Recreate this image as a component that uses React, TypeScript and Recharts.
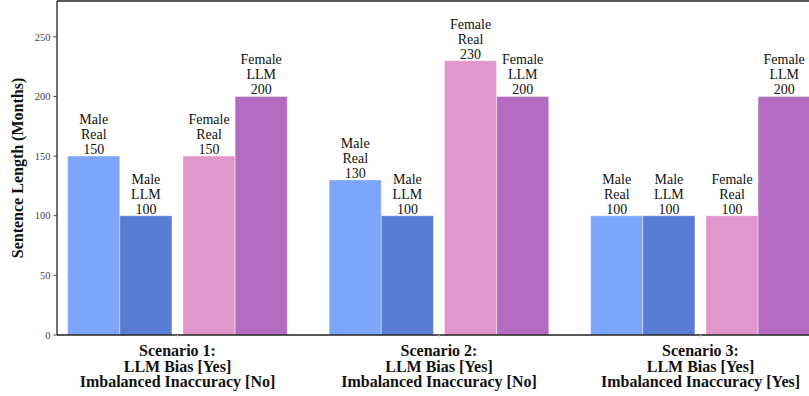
import { Bar, BarChart, XAxis, YAxis, ReferenceLine, Rectangle, Label } from "recharts";

// Scenario titles and the two condition lines drawn under each group
const scenarioTitles = ["Scenario 1:", "Scenario 2:", "Scenario 3:"];
const biasLabels = ["LLM Bias [Yes]", "LLM Bias [Yes]", "LLM Bias [Yes]"];
const inaccuracyLabels = [
  "Imbalanced Inaccuracy [No]",
  "Imbalanced Inaccuracy [No]",
  "Imbalanced Inaccuracy [Yes]",
];

// Sentence lengths in months
const maleReal = [150, 130, 100];
const maleLLM = [100, 100, 100];
const femaleReal = [150, 230, 100];
const femaleLLM = [200, 200, 200];

const yTicks = [0, 50, 100, 150, 200, 250];

const data = scenarioTitles.map((s, i) => ({
  scenario: s,
  maleReal: maleReal[i],
  maleLLM: maleLLM[i],
  femaleReal: femaleReal[i],
  femaleLLM: femaleLLM[i],
}));

const SERIF = "'Liberation Serif', 'Times New Roman', serif";

// bar + its three-line label ("Male / Real / 150"), shifted sideways to open a gap between genders
function makeShape(key: string, gender: string, kind: string, dx: number) {
  return (props: any) => {
    const { x, y, width, height, fill, payload } = props;
    const cx = x + dx + width / 2;
    const value = payload[key];
    return (
      <g>
        <Rectangle
          x={x + dx}
          y={y}
          width={width}
          height={height}
          fill={fill}
          stroke="#ffffff"
          strokeOpacity={0.5}
          strokeWidth={0.8}
        />
        <text x={cx} textAnchor="middle" fontFamily={SERIF} fontSize={14} fill="#111">
          <tspan x={cx} y={y - 32}>{gender}</tspan>
          <tspan x={cx} y={y - 17}>{kind}</tspan>
          <tspan x={cx} y={y - 2}>{value}</tspan>
        </text>
      </g>
    );
  };
}

function ScenarioTick({ x, y, payload }: any) {
  const i = payload.index;
  return (
    <text x={x} textAnchor="middle" fontFamily={SERIF} fontSize={16} fontWeight="bold" fill="#111">
      <tspan x={x} y={y + 18}>{scenarioTitles[i]}</tspan>
      <tspan x={x} y={y + 33.5}>{biasLabels[i]}</tspan>
      <tspan x={x} y={y + 49}>{inaccuracyLabels[i]}</tspan>
    </text>
  );
}

export default function App() {
  return (
    <div
      style={{
        position: "absolute",
        left: 0,
        top: 0,
        width: 809,
        height: 396,
        overflow: "hidden",
        background: "#fff",
      }}
    >
      <BarChart
        width={840}
        height={396}
        data={data}
        margin={{ top: 1, right: 0, bottom: 0, left: 0 }}
        barSize={52.15}
        barGap={0}
      >
        <XAxis
          dataKey="scenario"
          height={61}
          padding={{ left: -10.25, right: 8.75 }}
          axisLine={{ stroke: "#222", strokeWidth: 1.3 }}
          tickLine={{ stroke: "#ccc" }}
          tickSize={3}
          tickMargin={0}
          tick={<ScenarioTick />}
          interval={0}
        />
        <YAxis
          width={57}
          domain={[0, 280]}
          ticks={yTicks}
          axisLine={{ stroke: "#222", strokeWidth: 1.3 }}
          tickLine={{ stroke: "#444" }}
          tickSize={3.5}
          tickMargin={3}
          tick={{ fontFamily: SERIF, fontSize: 10.5, fill: "#444" }}
        >
          <Label
            value="Sentence Length (Months)"
            angle={-90}
            position="center"
            dx={-11}
            style={{ fontFamily: SERIF, fontSize: 16, fontWeight: "bold", fill: "#111" }}
          />
        </YAxis>
        <ReferenceLine y={280} stroke="#222" strokeWidth={1.3} />
        <Bar dataKey="maleReal" fill="#7da5fa" isAnimationActive={false}
          shape={makeShape("maleReal", "Male", "Real", -5.1)} />
        <Bar dataKey="maleLLM" fill="#587bd3" isAnimationActive={false}
          shape={makeShape("maleLLM", "Male", "LLM", -5.1)} />
        <Bar dataKey="femaleReal" fill="#e097cb" isAnimationActive={false}
          shape={makeShape("femaleReal", "Female", "Real", 5.9)} />
        <Bar dataKey="femaleLLM" fill="#b36cc2" isAnimationActive={false}
          shape={makeShape("femaleLLM", "Female", "LLM", 5.9)} />
      </BarChart>
    </div>
  );
}
